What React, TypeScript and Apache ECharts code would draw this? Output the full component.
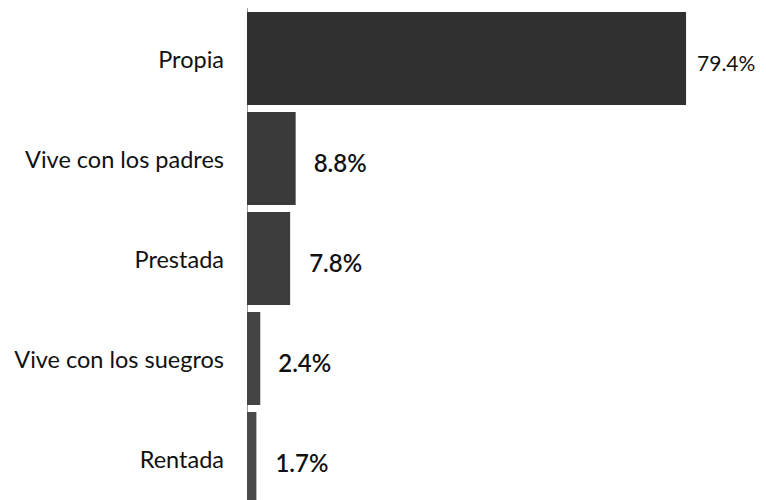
import React, { useEffect, useRef } from "react";
import * as echarts from "echarts";

const categories = ["Propia", "Vive con los padres", "Prestada", "Vive con los suegros", "Rentada"];
const values = [79.4, 8.8, 7.8, 2.4, 1.7];

export default function App() {
  const ref = useRef<HTMLDivElement>(null);
  useEffect(() => {
    if (!ref.current) return;
    const chart = echarts.init(ref.current, null, { renderer: "svg" });
    const barColors = ["#303030", "#3a3a3a", "#3c3c3c", "#444444", "#4a4a4a"];
    const labelSizes = [21, 24, 24, 24, 24];
    const labelDist = [11, 18, 19, 18, 19];
    chart.setOption({
      animation: false,
      backgroundColor: "#ffffff",
      grid: { left: 247, top: 8.5, width: 470, height: 500, containLabel: false },
      xAxis: { type: "value", min: 0, max: 85, show: false },
      yAxis: {
        type: "category",
        inverse: true,
        data: categories,
        axisLine: { show: true, lineStyle: { color: "#9a9a9a", width: 1 } },
        axisTick: { show: false },
        axisLabel: {
          margin: 23,
          fontFamily: "Lato",
          fontSize: 23.5,
          color: "#111111",
        },
      },
      series: [
        {
          type: "bar",
          barCategoryGap: "7%",
          data: values.map((v, i) => ({
            value: v,
            itemStyle: { color: barColors[i] },
            label: { fontSize: labelSizes[i], distance: labelDist[i], fontWeight: i === 0 ? "normal" : 600 },
          })),
          label: {
            show: true,
            position: "right",
            fontFamily: "Lato",
            color: "#111111",
            formatter: (p: any) => p.value.toFixed(1) + "%",
            offset: [0, 4],
          },
        },
      ],
    });
    return () => chart.dispose();
  }, []);
  return (
    <div style={{ position: "absolute", left: 0, top: 0, width: 766, height: 500, overflow: "hidden" }}>
      <div ref={ref} style={{ width: 766, height: 512 }} />
    </div>
  );
}
